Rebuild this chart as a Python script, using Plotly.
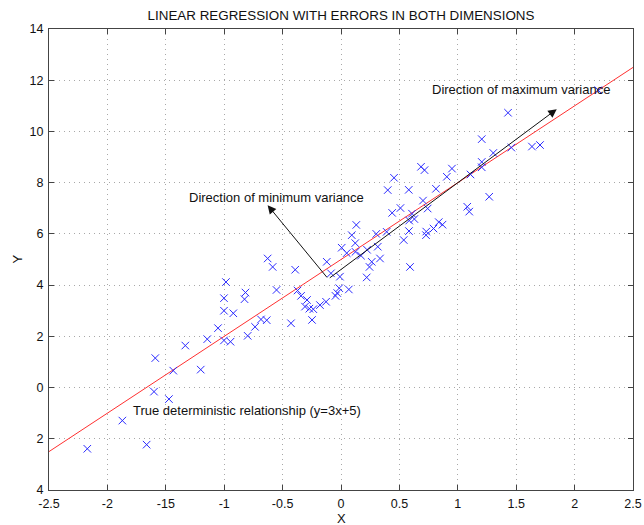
import plotly.graph_objects as go

# Noisy observations (errors in both x and y)
x_obs = [-2.172, -1.664, -1.872, -1.473, -1.601, -1.436, -1.590, -1.201, -1.333, -1.145,
         -1.053, -1.002, -0.946, -0.922, -1.002, -1.002, -0.985, -0.818, -0.826, -0.799,
         -0.736, -0.685, -0.636, -0.628, -0.585, -0.552, -0.428, -0.392, -0.372, -0.342,
         -0.291, -0.308, -0.271, -0.237, -0.248, -0.180, -0.128, -0.122, -0.086, -0.047,
         -0.032, -0.015, -0.009, 0.067, 0.006, 0.049, 0.092, 0.131, 0.122, 0.124,
         0.171, 0.220, 0.223, 0.244, 0.263, 0.302, 0.315, 0.334, 0.391, 0.400,
         0.438, 0.454, 0.509, 0.537, 0.580, 0.582, 0.584, 0.591, 0.608, 0.628,
         0.685, 0.715, 0.702, 0.742, 0.730, 0.728, 0.792, 0.813, 0.837, 0.869,
         0.906, 0.950, 1.081, 1.098, 1.109, 1.205, 1.205, 1.205, 1.269, 1.304,
         1.430, 1.458, 1.635, 1.704, 2.203]
y_obs = [-2.39, -2.23, -1.29, -0.45, -0.16, 0.66, 1.15, 0.70, 1.64, 1.89,
         2.32, 1.84, 1.79, 2.90, 3.00, 3.49, 4.12, 3.71, 3.45, 2.02,
         2.37, 2.66, 2.63, 5.04, 4.71, 3.81, 2.51, 4.60, 3.79, 3.58,
         3.42, 3.16, 3.08, 3.06, 2.64, 3.22, 3.35, 4.91, 4.46, 3.58,
         3.69, 3.88, 4.33, 3.83, 5.46, 5.25, 5.95, 6.35, 5.64, 5.30,
         5.15, 4.30, 5.38, 4.71, 4.91, 6.00, 5.50, 5.04, 6.08, 7.71,
         6.82, 8.19, 7.01, 5.76, 7.72, 6.11, 6.52, 4.71, 6.79, 6.58,
         8.62, 8.49, 7.30, 6.99, 6.09, 5.95, 6.21, 7.76, 6.46, 6.36,
         8.23, 8.55, 7.06, 6.87, 8.32, 9.70, 8.81, 8.60, 7.45, 9.16,
         10.73, 9.37, 9.41, 9.47, 11.61]

# True relationship y = 3x + 5 over the axis range
line_x = [-2.5, 2.5]
slope, intercept = 3, 5
line_y = [slope * v + intercept for v in line_x]

# Principal directions drawn from the data centroid
center = (-0.109, 4.24)
max_dir_tip = (1.847, 10.87)
min_dir_tip = (-0.628, 7.12)

x_ticks = [-2.5, -2, -1.5, -1, -0.5, 0, 0.5, 1, 1.5, 2, 2.5]
x_ticktext = ["-2.5", "-2", "-15", "-1", "-0.5", "0", "0.5", "1", "1.5", "2", "2.5"]
y_ticks = [14, 12, 10, 8, 6, 4, 2, 0, -2, -4]
y_ticktext = ["14", "12", "10", "8", "6", "4", "2", "0", "2", "4"]

FONT = "Liberation Sans, Arial, Helvetica, sans-serif"
INK = "#111111"

fig = go.Figure()
fig.add_trace(go.Scatter(
    x=line_x, y=line_y, mode="lines",
    line=dict(color="#ff3030", width=1),
    showlegend=False, hoverinfo="skip"))
fig.add_trace(go.Scatter(
    x=x_obs, y=y_obs, mode="markers",
    marker=dict(symbol="x-thin-open", size=7.5, color="#2a2aff",
                line=dict(width=1, color="#2a2aff")),
    showlegend=False, hoverinfo="skip"))

arrow_common = dict(xref="x", yref="y", axref="x", ayref="y", showarrow=True,
                    arrowhead=2, arrowsize=1.7, arrowwidth=1, arrowcolor=INK,
                    text="", standoff=0)
fig.add_annotation(x=max_dir_tip[0], y=max_dir_tip[1], ax=center[0], ay=center[1], **arrow_common)
fig.add_annotation(x=min_dir_tip[0], y=min_dir_tip[1], ax=center[0], ay=center[1], **arrow_common)

text_common = dict(xref="x", yref="y", showarrow=False, xanchor="left", yanchor="middle",
                   font=dict(family=FONT, size=13, color=INK))
fig.add_annotation(x=0.762, y=11.62, text="Direction of maximum variance", **text_common)
fig.add_annotation(x=-1.318, y=7.43, text="Direction of minimum variance", **text_common)
fig.add_annotation(x=-1.798, y=-0.91, text="True deterministic relationship (y=3x+5)", **text_common)

# Axis titles
fig.add_annotation(xref="paper", yref="paper", x=0.5, y=0, yshift=-28.5, showarrow=False,
                   xanchor="center", yanchor="middle", text="X",
                   font=dict(family=FONT, size=13, color=INK))
fig.add_annotation(xref="paper", yref="paper", x=0, y=0.5, xshift=-32, showarrow=False,
                   xanchor="center", yanchor="middle", text="Y", textangle=-90,
                   font=dict(family=FONT, size=13, color=INK))

axis_common = dict(showgrid=True, gridcolor="#a8a8a8", griddash="1px,4px", gridwidth=1,
                   showline=True, linecolor="#444444", linewidth=1, mirror="ticks",
                   ticks="inside", ticklen=5, tickcolor="#444444", zeroline=False,
                   automargin=False, ticklabelstandoff=2,
                   tickfont=dict(family=FONT, size=12.5, color=INK))

fig.update_layout(
    width=644, height=525,
    margin=dict(l=49, r=11, t=29, b=35),
    paper_bgcolor="white", plot_bgcolor="white",
    hovermode=False,
    title=dict(text="LINEAR REGRESSION WITH ERRORS IN BOTH DIMENSIONS",
               x=341 / 644, xanchor="center", y=1 - 15 / 525, yanchor="middle",
               yref="container", font=dict(family=FONT, size=13.4, color=INK)),
    xaxis=dict(range=[-2.5, 2.5], tickvals=x_ticks, ticktext=x_ticktext, **axis_common),
    yaxis=dict(range=[-4, 14], tickvals=y_ticks, ticktext=y_ticktext, **axis_common),
)

fig.write_html("out.html")
